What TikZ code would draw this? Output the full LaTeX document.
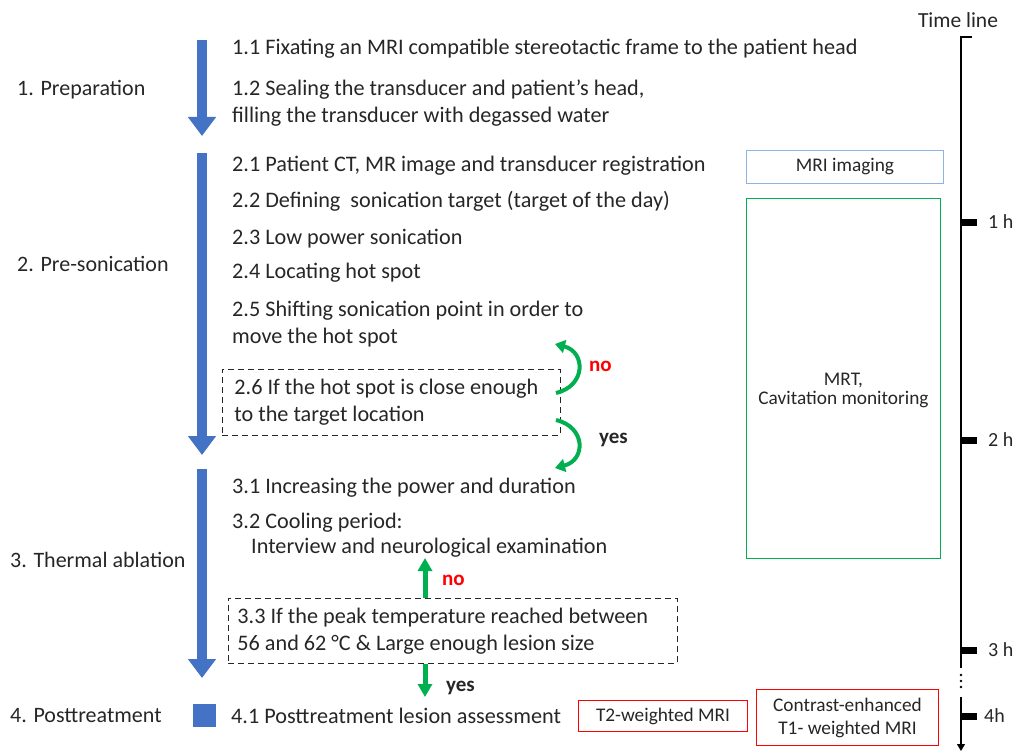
\documentclass[tikz,border=0pt]{standalone}
\usepackage{fontspec}
\setmainfont{Carlito}
\usetikzlibrary{arrows.meta}
\definecolor{tblue}{HTML}{4472C4}
\definecolor{tgreen}{HTML}{00B050}
\definecolor{lblue}{HTML}{8FB4E3}
\definecolor{tred}{HTML}{FF0000}
\definecolor{txt}{HTML}{262626}
\begin{document}
\begin{tikzpicture}[x=1pt,y=-1pt,
  every node/.style={text=txt, inner sep=0pt},
  stepnode/.style={anchor=west, yshift=-1.5pt, font=\fontsize{22.2}{27}\selectfont, align=flush left},
  phase/.style={anchor=west, yshift=-1.5pt, font=\fontsize{22}{27}\selectfont},
  dbox/.style={draw=txt, dash pattern=on 6pt off 4pt, line width=0.9pt, anchor=north west,
     font=\fontsize{22.2}{27}\selectfont, align=flush left},
  rbox/.style={draw, line width=1pt, anchor=north west, align=center,
     font=\fontsize{19.3}{23}\selectfont},
  bigarrow/.style={tblue, line width=10pt, -{Triangle[width=27pt,length=19pt]}},
  garrow/.style={tgreen, line width=5pt, -{Triangle[width=14pt,length=13pt]}},
  carrow/.style={tgreen, line width=4pt, -{Triangle[width=13pt,length=10pt]}},
  lbl/.style={font=\bfseries\fontsize{21}{22}\selectfont, anchor=west},
  tick/.style={font=\fontsize{20}{22}\selectfont, anchor=west},
]
\useasboundingbox (0,0) rectangle (1021,752);

% phase labels
\node[phase] (p1) at (17,88) {1. Preparation};
\node[phase] (p2) at (17,262) {2. Pre-sonication};
\node[phase] (p3) at (10,558) {3. Thermal ablation};
\node[phase] (p4) at (10,714) {4. Posttreatment};

% blue arrows
\coordinate (a1s) at (202,40);  \coordinate (a1e) at (202,136);
\coordinate (a2s) at (202,153); \coordinate (a2e) at (202,455);
\coordinate (a3s) at (202,469); \coordinate (a3e) at (202,678);
\draw[bigarrow] (a1s) -- (a1e);
\draw[bigarrow] (a2s) -- (a2e);
\draw[bigarrow] (a3s) -- (a3e);
\node[fill=tblue, minimum size=23pt] (sq) at (204,715.5) {};

% steps
\node[stepnode] (s11) at (232,47) {1.1 Fixating an MRI compatible stereotactic frame to the patient head};
\node[stepnode] (s12) at (232,101.5) {1.2 Sealing the transducer and patient’s head,\\filling the transducer with degassed water};
\node[stepnode] (s21) at (232,164) {2.1 Patient CT, MR image and transducer registration};
\node[stepnode] (s22) at (232,200) {2.2 Defining\ \ sonication target (target of the day)};
\node[stepnode] (s23) at (232,237) {2.3 Low power sonication};
\node[stepnode] (s24) at (232,271) {2.4 Locating hot spot};
\node[stepnode] (s25) at (232,322.5) {2.5 Shifting sonication point in order to\\move the hot spot};
\node[dbox, text width=314pt, inner xsep=12pt, minimum height=66pt] (s26) at (222,369)
   {2.6 If the hot spot is close enough\\to the target location};
\node[stepnode] (s31) at (232,486) {3.1 Increasing the power and duration};
\node[stepnode] (s32) at (232,521) {3.2 Cooling period:};
\node[stepnode] (s32b) at (251,546) {Interview and neurological examination};
\node[dbox, text width=431pt, inner xsep=9pt, minimum height=65pt] (s33) at (228,598)
   {3.3 If the peak temperature reached between\\56 and 62 °C \& Large enough lesion size};
\node[stepnode] (s41) at (231,714) {4.1 Posttreatment lesion assessment};

% curved green arrows
\coordinate (c1s) at (556,393); \coordinate (c1e) at (555,344);
\coordinate (c2s) at (556,420); \coordinate (c2e) at (555,468);
\draw[carrow] (c1s) .. controls (586,386) and (586,352) .. (c1e);
\draw[carrow] (c2s) .. controls (586,427) and (586,460) .. (c2e);
\node[lbl, text=tred] (no1) at (589,366) {no};
\node[lbl] (yes1) at (599,440) {yes};

% straight green arrows
\coordinate (g1) at (425,558);
\coordinate (g2) at (425,697);
\draw[garrow] (s33.north -| g1) -- (g1);
\draw[garrow] (s33.south -| g2) -- (g2);
\node[lbl, text=tred] (no2) at (442,580) {no};
\node[lbl] (yes2) at (446,688) {yes};

% right boxes
\node[rbox, draw=lblue, minimum width=197pt, minimum height=33pt] (mri) at (746,150) {MRI imaging};
\node[rbox, draw=tgreen, minimum width=194pt, minimum height=360pt] (mrt) at (746,198) {};
\node[font=\fontsize{19.3}{19}\selectfont, align=center] (mrttxt) at ([yshift=-12pt]mrt.center) {MRT,\\Cavitation monitoring};
\node[rbox, draw=tred, minimum width=169pt, minimum height=31pt] (t2) at (578,700) {T2-weighted MRI};
\node[rbox, draw=tred, minimum width=182pt, minimum height=56pt] (t1) at (756,689) {Contrast-enhanced\\T1- weighted MRI};

% time line
\node[font=\fontsize{21.5}{22}\selectfont] (tl) at (958,20) {Time line};
\coordinate (tt) at (972,37);
\coordinate (t0) at (961,37);
\coordinate (tb) at (961,668);
\draw[line width=1.2pt] (tt) -- (t0) -- (tb);
\foreach \yy in {675,681,687} \fill (961,\yy) circle (1.3pt);
\coordinate (ta) at (961,697);
\coordinate (tz) at (961,751);
\draw[line width=1.2pt, -{Triangle[width=8pt,length=7pt]}] (ta) -- (tz);
\foreach \yy/\lab/\xx in {222/1 h/988, 440/2 h/988, 650/3 h/988, 716/4h/984} {
  \fill (961,\yy-3.5) rectangle (977,\yy+3.5);
  \node[tick] at (\xx,\yy) {\lab};
}
\end{tikzpicture}
\end{document}
